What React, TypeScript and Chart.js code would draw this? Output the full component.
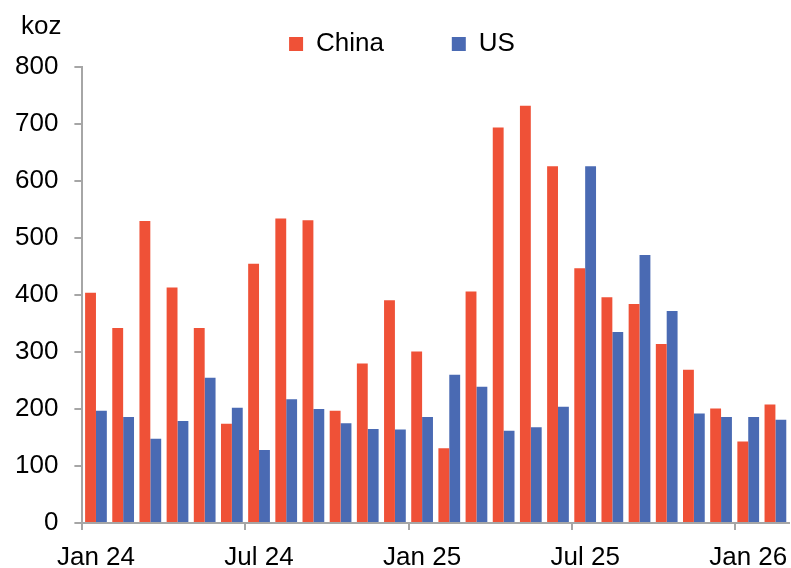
import React, { useEffect, useRef } from 'react';
import { Chart, registerables } from 'chart.js';

Chart.register(...registerables);

const months = [
  'Jan 24', 'Feb 24', 'Mar 24', 'Apr 24', 'May 24', 'Jun 24',
  'Jul 24', 'Aug 24', 'Sep 24', 'Oct 24', 'Nov 24', 'Dec 24',
  'Jan 25', 'Feb 25', 'Mar 25', 'Apr 25', 'May 25', 'Jun 25',
  'Jul 25', 'Aug 25', 'Sep 25', 'Oct 25', 'Nov 25', 'Dec 25',
  'Jan 26', 'Feb 26',
];

const china = [
  404, 342, 530, 413, 342, 174,
  455, 534, 531, 197, 280, 391,
  301, 131, 406, 694, 732, 626,
  447, 396, 384, 314, 269, 201,
  143, 208,
];

const us = [
  197, 186, 148, 179, 255, 202,
  128, 217, 200, 175, 165, 164,
  186, 260, 239, 162, 168, 204,
  626, 335, 470, 372, 192, 186,
  186, 181,
];

const yTickValues = [0, 100, 200, 300, 400, 500, 600, 700, 800];
const unitLabel = 'koz';

const FONT = '"Liberation Sans", Arial, sans-serif';
const AXIS_GREY = '#a6a6a6';
const CHINA_COLOR = '#ef5137';
const US_COLOR = '#4a6ab3';

const Y_TICK_PAD = 16;
const X_TICK_PAD = 15;

export default function App() {
  const ref = useRef<HTMLCanvasElement>(null);

  useEffect(() => {
    const chart = new Chart(ref.current as HTMLCanvasElement, {
      type: 'bar',
      data: {
        labels: months,
        datasets: [
          {
            label: 'China',
            data: china,
            backgroundColor: CHINA_COLOR,
            borderWidth: 0,
            categoryPercentage: 0.8,
            barPercentage: 1.0,
          },
          {
            label: 'US',
            data: us,
            backgroundColor: US_COLOR,
            borderWidth: 0,
            categoryPercentage: 0.8,
            barPercentage: 1.0,
          },
        ],
      },
      options: {
        animation: false,
        responsive: false,
        layout: { padding: { left: 15, right: 2, top: 20, bottom: 0 } },
        plugins: {
          tooltip: { enabled: false },
          legend: {
            position: 'top',
            labels: {
              color: '#000',
              font: { family: FONT, size: 26 },
              boxWidth: 14,
              boxHeight: 14,
              padding: 10,
              generateLabels: (c: any) => {
                const items = (Chart.defaults.plugins.legend.labels as any).generateLabels(c);
                if (items[0]) items[0].text = items[0].text + '        ';
                return items;
              },
            },
          },
        },
        scales: {
          x: {
            offset: true,
            afterFit: (s: any) => {
              s.height = s.height - 2 * X_TICK_PAD + 12;
              s.paddingLeft = 0;
              s.paddingRight = 0;
            },
            ticks: {
              autoSkip: false,
              maxRotation: 0,
              minRotation: 0,
              color: '#000',
              font: { family: FONT, size: 26, lineHeight: 1 },
              padding: X_TICK_PAD,
              callback: (_v: any, i: number) => (i % 6 === 0 ? months[i] : ''),
            },
            grid: {
              offset: true,
              drawOnChartArea: false,
              drawTicks: true,
              tickLength: 7,
              lineWidth: 2,
              color: (ctx: any) => (ctx.index % 6 === 0 ? AXIS_GREY : 'rgba(0,0,0,0)'),
            },
            border: { color: AXIS_GREY, width: 2 },
          },
          y: {
            min: yTickValues[0],
            max: yTickValues[yTickValues.length - 1],
            afterFit: (s: any) => {
              s.width = s.width - Y_TICK_PAD;
              s.paddingTop = 67;
              s.paddingBottom = 0;
            },
            ticks: {
              stepSize: 100,
              color: '#000',
              font: { family: FONT, size: 26 },
              padding: Y_TICK_PAD,
            },
            grid: {
              drawOnChartArea: false,
              drawTicks: true,
              tickLength: 8,
              lineWidth: 2,
              color: AXIS_GREY,
            },
            border: { color: AXIS_GREY, width: 2 },
          },
        },
      },
    } as any);
    return () => chart.destroy();
  }, []);

  return (
    <div style={{ position: 'fixed', left: 0, top: 0, width: 791, height: 568, background: '#fff' }}>
      <canvas ref={ref} width={791} height={568} style={{ display: 'block' }} />
      <div
        style={{
          position: 'absolute',
          left: 21,
          top: 12,
          fontFamily: FONT,
          fontSize: 26,
          lineHeight: '26px',
          color: '#000',
        }}
      >
        {unitLabel}
      </div>
    </div>
  );
}
